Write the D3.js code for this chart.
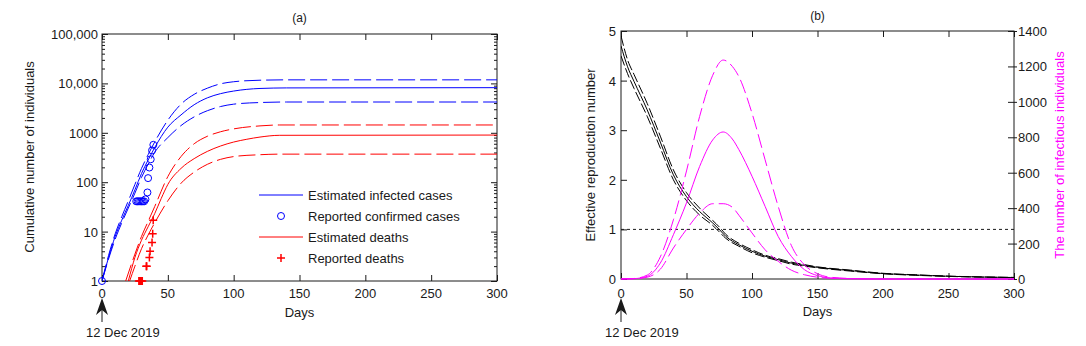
<!DOCTYPE html>
<html>
<head>
<meta charset="utf-8">
<script src="https://cdn.jsdelivr.net/npm/d3@7"></script>
<style>
  body { margin: 0; background: #fff; }
  text { font-family: "Liberation Sans", Arial, sans-serif; fill: #1a1a1a; }
</style>
</head>
<body>
<svg id="chart" width="1086" height="346"></svg>
<script>
// ---- panel (a) data ----
const dayTicks = [0, 50, 100, 150, 200, 250, 300];
const logTicks = [1, 10, 100, 1000, 10000, 100000];
const logLabels = ["1", "10", "100", "1000", "10,000", "100,000"];

const infDays = [0, 5, 10, 15, 20, 25, 30, 35, 40, 50, 60, 70, 80, 90, 100, 120, 140, 300];
const infMid = [1, 3, 8, 17, 34, 70, 150, 280, 500, 1300, 2300, 3700, 5100, 6200, 7000, 7900, 8100, 8200];
const infHi = [1, 3.3, 9, 20, 42, 90, 190, 360, 650, 1800, 3800, 6000, 8000, 9800, 10800, 11600, 11800, 11800];
const infLo = [1, 2.8, 7, 15, 30, 60, 125, 230, 400, 800, 1400, 2100, 2800, 3400, 3800, 4100, 4200, 4200];

const deathMidDays = [20, 25, 30, 35, 40, 45, 50, 60, 70, 80, 90, 100, 110, 120, 135, 300];
const deathMid = [1, 3, 6.7, 12.5, 23, 47, 90, 190, 300, 420, 540, 650, 740, 820, 890, 900];
const deathHiDays = [18, 25, 30, 35, 40, 50, 60, 70, 80, 90, 100, 120, 135, 300];
const deathHi = [1, 3.5, 8, 16, 32, 130, 330, 600, 850, 1050, 1200, 1380, 1440, 1440];
const deathLoDays = [21, 25, 30, 35, 40, 50, 60, 70, 80, 90, 100, 120, 135, 300];
const deathLo = [1, 2, 4.5, 8.5, 15, 42, 95, 160, 230, 290, 330, 360, 370, 370];

const caseDays = [0, 26, 27, 28, 29, 30, 31, 32, 33, 34.5, 35, 36, 37, 38, 39];
const caseCounts = [1, 41, 41, 41, 41, 41, 41, 41, 45, 62, 121, 198, 291, 440, 571];
const deadDays = [28, 28.7, 29.4, 30, 30.6, 33.6, 34, 36, 36.5, 38, 38.5, 38.9];
const deadCounts = [1, 1, 1, 1, 1, 2, 2, 3, 4, 6, 9, 17];

const legendItems = ["Estimated infected cases", "Reported confirmed cases", "Estimated deaths", "Reported deaths"];

// ---- panel (b) data ----
const reTicks = [0, 1, 2, 3, 4, 5];
const infTicks = [0, 200, 400, 600, 800, 1000, 1200, 1400];

const reDays = [0, 5, 10, 20, 30, 40, 50, 60, 70, 75, 80, 90, 100, 110, 120, 130, 140, 150, 175, 200, 225, 250, 275, 300];
const reMid = [4.7, 4.28, 3.98, 3.41, 2.76, 2.1, 1.66, 1.36, 1.13, 1.0, 0.86, 0.69, 0.56, 0.46, 0.39, 0.32, 0.275, 0.235, 0.17, 0.11, 0.08, 0.055, 0.04, 0.03];
const reHi = [4.9, 4.42, 4.12, 3.54, 2.88, 2.2, 1.74, 1.43, 1.18, 1.05, 0.9, 0.72, 0.59, 0.48, 0.41, 0.34, 0.29, 0.245, 0.18, 0.115, 0.085, 0.058, 0.042, 0.032];
const reLo = [4.5, 4.14, 3.84, 3.28, 2.64, 2.0, 1.58, 1.29, 1.08, 0.95, 0.82, 0.66, 0.53, 0.44, 0.37, 0.3, 0.26, 0.225, 0.16, 0.105, 0.075, 0.052, 0.038, 0.028];

const iDays = [0, 10, 20, 30, 40, 50, 60, 70, 78, 85, 90, 100, 110, 120, 130, 140, 150, 160, 180, 200, 300];
const iMid = [0, 2, 15, 90, 250, 430, 635, 785, 830, 790, 730, 580, 410, 240, 128, 53, 19, 6, 1, 0, 0];
const iHi = [0, 3, 22, 125, 334, 610, 917, 1150, 1236, 1200, 1142, 936, 673, 410, 190, 80, 30, 10, 2, 0, 0];
const iLo = [0, 1, 10, 55, 175, 280, 372, 425, 425, 405, 360, 260, 165, 100, 50, 24, 10, 4, 1, 0, 0];

const svg = d3.select("#chart");
const dark = "#1a1a1a";

function pairs(xs, ys) {
  return xs.map((d, i) => [d, ys[i]]);
}

function drawArrow(x) {
  svg.append("line").attr("x1", x).attr("x2", x).attr("y1", 305).attr("y2", 322)
    .style("stroke", dark).style("stroke-width", 1);
  svg.append("path")
    .attr("d", `M${x},298 L${x + 6},315 L${x},310 L${x - 6},315 Z`)
    .style("fill", dark);
  svg.append("text").attr("x", x - 16).attr("y", 337)
    .style("font-size", "13px").text("12 Dec 2019");
}

// =============== panel (a) ===============
let ga = { left: 102, right: 497, top: 34, bottom: 281 };
let xa = d3.scaleLinear().domain([0, 300]).range([ga.left, ga.right]);
let ya = d3.scaleLog().domain([1, 100000]).range([ga.bottom, ga.top]);

let A = svg.append("g");
let clipA = A.append("clipPath").attr("id", "clipA");
clipA.append("rect").attr("x", ga.left).attr("y", ga.top - 1)
  .attr("width", ga.right - ga.left).attr("height", ga.bottom - ga.top + 2);

// ticks inward, on all four sides
let minor = [];
for (let e = 0; e < 5; e++) {
  for (let m = 2; m < 10; m++) minor.push(m * Math.pow(10, e));
}
A.append("g").attr("transform", `translate(${ga.left},0)`)
  .call(d3.axisRight(ya).tickValues(logTicks).tickSize(6).tickFormat(""));
A.append("g").attr("transform", `translate(${ga.left},0)`)
  .call(d3.axisRight(ya).tickValues(minor).tickSize(3).tickFormat(""));
A.append("g").attr("transform", `translate(${ga.right},0)`)
  .call(d3.axisLeft(ya).tickValues(logTicks).tickSize(6).tickFormat(""));
A.append("g").attr("transform", `translate(${ga.right},0)`)
  .call(d3.axisLeft(ya).tickValues(minor).tickSize(3).tickFormat(""));
A.append("g").attr("transform", `translate(0,${ga.bottom})`)
  .call(d3.axisTop(xa).tickValues(dayTicks).tickSize(6).tickFormat(""));
A.append("g").attr("transform", `translate(0,${ga.top})`)
  .call(d3.axisBottom(xa).tickValues(dayTicks).tickSize(6).tickFormat(""));
A.selectAll(".domain").remove();
A.selectAll(".tick line").style("stroke", dark);

A.append("rect").attr("x", ga.left).attr("y", ga.top)
  .attr("width", ga.right - ga.left).attr("height", ga.bottom - ga.top)
  .style("fill", "none").style("stroke", dark).style("stroke-width", 1);

A.selectAll(".ylab").data(logTicks).enter().append("text")
  .attr("x", ga.left - 4).attr("y", d => ya(d) + 5)
  .attr("text-anchor", "end").style("font-size", "13px")
  .text((d, i) => logLabels[i]);
A.selectAll(".xlab").data(dayTicks).enter().append("text")
  .attr("x", d => xa(d)).attr("y", 298)
  .attr("text-anchor", "middle").style("font-size", "13px")
  .text(d => d);

A.append("text").attr("x", (ga.left + ga.right) / 2).attr("y", 22)
  .attr("text-anchor", "middle").style("font-size", "12px").text("(a)");
A.append("text").attr("x", (ga.left + ga.right) / 2).attr("y", 317)
  .attr("text-anchor", "middle").style("font-size", "13px").text("Days");
A.append("text").attr("transform", "translate(34,157) rotate(-90)")
  .attr("text-anchor", "middle").style("font-size", "13px")
  .text("Cumulative number of individuals");

let lineA = d3.line().x(d => xa(d[0])).y(d => ya(d[1])).curve(d3.curveMonotoneX);
let curvesA = A.append("g").attr("clip-path", "url(#clipA)");

function addA(xs, ys, color, dashed) {
  curvesA.append("path").datum(pairs(xs, ys))
    .attr("d", lineA)
    .style("fill", "none").style("stroke", color).style("stroke-width", 1)
    .style("stroke-dasharray", dashed ? "17,5" : null);
}
addA(infDays, infHi, "#0000ff", true);
addA(infDays, infMid, "#0000ff", false);
addA(infDays, infLo, "#0000ff", true);
addA(deathHiDays, deathHi, "#ff0000", true);
addA(deathMidDays, deathMid, "#ff0000", false);
addA(deathLoDays, deathLo, "#ff0000", true);

A.selectAll(".case").data(pairs(caseDays, caseCounts)).enter().append("circle")
  .attr("cx", d => xa(d[0])).attr("cy", d => ya(d[1])).attr("r", 3.5)
  .style("fill", "none").style("stroke", "#0000ff").style("stroke-width", 1);

A.selectAll(".dead").data(pairs(deadDays, deadCounts)).enter().append("path")
  .attr("transform", d => `translate(${xa(d[0])},${ya(d[1])})`)
  .attr("d", "M-4,0H4M0,-4V4")
  .style("stroke", "#ff0000").style("stroke-width", 1.5).style("fill", "none");

// legend
let lg = A.append("g");
lg.selectAll("text").data(legendItems).enter().append("text")
  .attr("x", 308).attr("y", (d, i) => 200 + i * 21)
  .style("font-size", "13px").text(d => d);
lg.append("line").attr("x1", 259).attr("x2", 303).attr("y1", 195).attr("y2", 195)
  .style("stroke", "#0000ff");
lg.append("circle").attr("cx", 281).attr("cy", 216).attr("r", 3.5)
  .style("fill", "none").style("stroke", "#0000ff");
lg.append("line").attr("x1", 259).attr("x2", 303).attr("y1", 237).attr("y2", 237)
  .style("stroke", "#ff0000");
lg.append("path").attr("transform", "translate(281,258)").attr("d", "M-4,0H4M0,-4V4")
  .style("stroke", "#ff0000").style("stroke-width", 1.5);

drawArrow(ga.left);

// =============== panel (b) ===============
let gb = { left: 621, right: 1014, top: 31, bottom: 279 };
let xb = d3.scaleLinear().domain([0, 300]).range([gb.left, gb.right]);
let yb = d3.scaleLinear().domain([0, 5]).range([gb.bottom, gb.top]);
let yb2 = d3.scaleLinear().domain([0, 1400]).range([gb.bottom, gb.top]);

let B = svg.append("g");
B.append("clipPath").attr("id", "clipB").append("rect")
  .attr("x", gb.left).attr("y", gb.top - 1)
  .attr("width", gb.right - gb.left).attr("height", gb.bottom - gb.top + 2);

B.append("g").attr("transform", `translate(${gb.left},0)`)
  .call(d3.axisRight(yb).tickValues(reTicks).tickSize(6).tickFormat(""));
B.append("g").attr("transform", `translate(${gb.right},0)`)
  .call(d3.axisLeft(yb2).tickValues(infTicks).tickSize(6).tickFormat(""));
B.append("g").attr("transform", `translate(${gb.right},0)`)
  .call(d3.axisRight(yb2).tickValues(infTicks).tickSize(3).tickFormat(""));
B.append("g").attr("transform", `translate(0,${gb.bottom})`)
  .call(d3.axisTop(xb).tickValues(dayTicks).tickSize(6).tickFormat(""));
B.append("g").attr("transform", `translate(0,${gb.top})`)
  .call(d3.axisBottom(xb).tickValues(dayTicks).tickSize(6).tickFormat(""));
B.selectAll(".domain").remove();
B.selectAll(".tick line").style("stroke", dark);

B.append("rect").attr("x", gb.left).attr("y", gb.top)
  .attr("width", gb.right - gb.left).attr("height", gb.bottom - gb.top)
  .style("fill", "none").style("stroke", dark).style("stroke-width", 1);

B.selectAll(".ylab").data(reTicks).enter().append("text")
  .attr("x", gb.left - 5).attr("y", d => yb(d) + 5)
  .attr("text-anchor", "end").style("font-size", "13px").text(d => d);
B.selectAll(".ylab2").data(infTicks).enter().append("text")
  .attr("x", gb.right + 4).attr("y", d => yb2(d) + 5)
  .style("font-size", "13px").text(d => d);
B.selectAll(".xlab").data(dayTicks).enter().append("text")
  .attr("x", d => xb(d)).attr("y", 298)
  .attr("text-anchor", "middle").style("font-size", "13px").text(d => d);

B.append("text").attr("x", (gb.left + gb.right) / 2).attr("y", 20)
  .attr("text-anchor", "middle").style("font-size", "12px").text("(b)");
B.append("text").attr("x", (gb.left + gb.right) / 2).attr("y", 316)
  .attr("text-anchor", "middle").style("font-size", "13px").text("Days");
B.append("text").attr("transform", "translate(595,155) rotate(-90)")
  .attr("text-anchor", "middle").style("font-size", "13px")
  .text("Effective reproduction number");
B.append("text").attr("transform", "translate(1064,155) rotate(-90)")
  .attr("text-anchor", "middle").style("font-size", "13px")
  .style("fill", "#ff00ff").text("The number of infectious individuals");

let curvesB = B.append("g").attr("clip-path", "url(#clipB)");

// threshold Re = 1
curvesB.append("line").attr("x1", gb.left).attr("x2", gb.right)
  .attr("y1", yb(1)).attr("y2", yb(1))
  .style("stroke", dark).style("stroke-width", 1).style("stroke-dasharray", "3,3");

let lineRe = d3.line().x(d => xb(d[0])).y(d => yb(d[1])).curve(d3.curveMonotoneX);
let lineInf = d3.line().x(d => xb(d[0])).y(d => yb2(d[1])).curve(d3.curveMonotoneX);

function addB(gen, xs, ys, color, dash) {
  curvesB.append("path").datum(pairs(xs, ys))
    .attr("d", gen)
    .style("fill", "none").style("stroke", color).style("stroke-width", 1)
    .style("stroke-dasharray", dash);
}
addB(lineRe, reDays, reHi, "#000", "10,3");
addB(lineRe, reDays, reMid, "#000", null);
addB(lineRe, reDays, reLo, "#000", "10,3");
addB(lineInf, iDays, iHi, "#ff00ff", "14,5");
addB(lineInf, iDays, iMid, "#ff00ff", null);
addB(lineInf, iDays, iLo, "#ff00ff", "14,5");

drawArrow(gb.left);
</script>
</body>
</html>
